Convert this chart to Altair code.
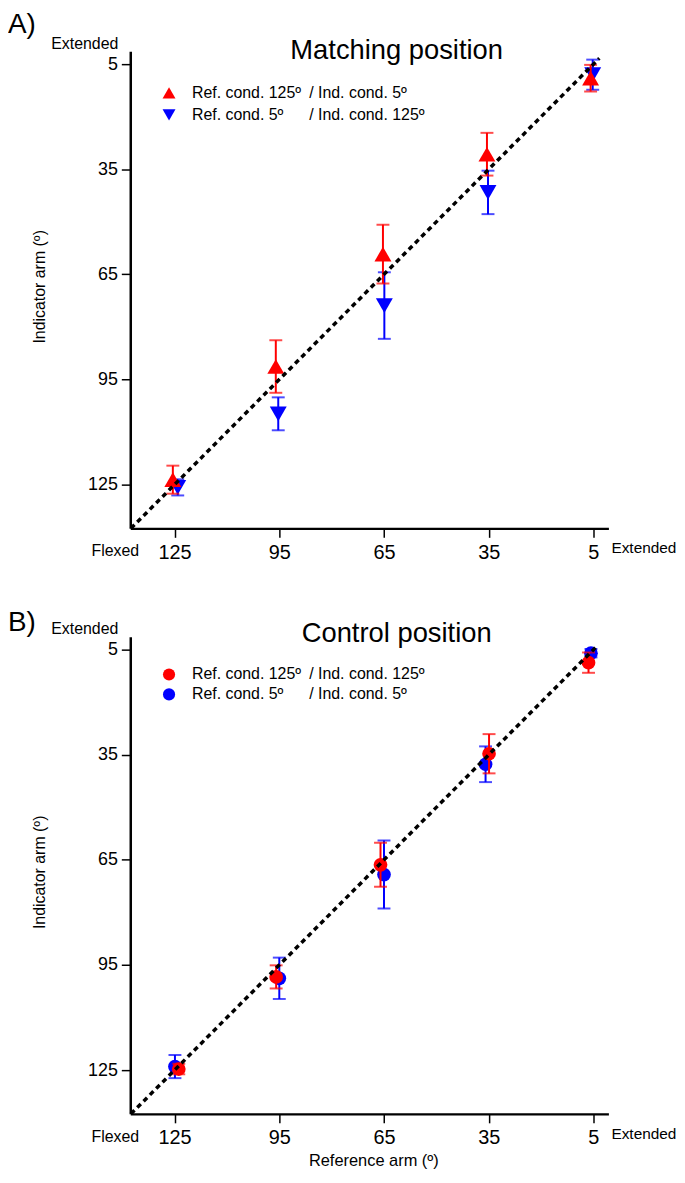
import altair as alt
import pandas as pd

FONT = "Liberation Sans"
RED = "#ff0000"
BLUE = "#0000ff"

tick_values = [125, 95, 65, 35, 5]

# Panel A: matching position (reference arm vs indicator arm, degrees)
a_red_x = [125.5, 96.0, 65.3, 35.5, 5.8]
a_red_mean = [123.6, 91.3, 59.2, 30.7, 9.0]
a_red_err = [4.0, 7.5, 8.4, 6.1, 3.8]
a_blue_x = [124.1, 95.3, 64.9, 35.2, 5.2]
a_blue_mean = [125.8, 104.8, 73.9, 41.6, 8.0]
a_blue_err = [2.3, 4.7, 9.5, 6.2, 4.3]

# Panel B: control position
b_red_x = [123.8, 95.9, 66.0, 34.9, 6.4]
b_red_mean = [124.7, 98.4, 66.4, 34.7, 8.7]
b_red_err = [1.5, 3.3, 6.3, 5.6, 2.9]
b_blue_x = [124.9, 95.0, 65.0, 35.9, 5.7]
b_blue_mean = [124.0, 98.8, 69.2, 37.7, 6.0]
b_blue_err = [3.3, 5.9, 9.7, 5.1, 1.2]

identity_a = [137.5, 3.3]
identity_b = [137.5, 3.8]

legend_a = [("Ref. cond. 125º", "/  Ind. cond. 5º"), ("Ref. cond. 5º", "/  Ind. cond. 125º")]
legend_b = [("Ref. cond. 125º", "/  Ind. cond. 125º"), ("Ref. cond. 5º", "/  Ind. cond. 5º")]

W, H = 481, 480

xscale = alt.Scale(domain=[0.7, 137.7], reverse=True, nice=False, zero=False)
yscale = alt.Scale(domain=[1.3, 137.5], reverse=True, nice=False, zero=False)

xaxis = alt.Axis(values=tick_values, title=None, labelFontSize=20, labelFont=FONT,
                 labelColor="black", labelPadding=5, tickSize=9, tickWidth=1.5,
                 tickColor="black", domainColor="black", domainWidth=2.5, grid=False,
                 labelFlush=False)
yaxis = alt.Axis(values=tick_values, title=None, labelFontSize=18, labelFont=FONT,
                 labelColor="black", labelPadding=4, tickSize=9, tickWidth=1.5,
                 tickColor="black", domainColor="black", domainWidth=2.5, grid=False,
                 labelFlush=False)


def txt(s, x, y, size, align="left", baseline="alphabetic", angle=None):
    kw = dict(text=s, fontSize=size, font=FONT, align=align, baseline=baseline, color="black")
    if angle is not None:
        kw["angle"] = angle
    return alt.Chart(alt.Data(values=[{"a": 1}])).mark_text(**kw).encode(
        x=alt.value(x), y=alt.value(y))


def series(xs, means, errs, color, shape, size):
    df = pd.DataFrame({
        "x": xs,
        "m": means,
        "lo": [m - e for m, e in zip(means, errs)],
        "hi": [m + e for m, e in zip(means, errs)],
    })
    X = alt.X("x:Q", scale=xscale, axis=xaxis)
    rule = alt.Chart(df).mark_rule(color=color, strokeWidth=2).encode(
        x=X, y=alt.Y("lo:Q", scale=yscale, axis=yaxis), y2="hi:Q")
    cap_lo = alt.Chart(df).mark_tick(color=color, orient="horizontal", size=13,
                                     thickness=2).encode(
        x=X, y=alt.Y("lo:Q", scale=yscale, axis=yaxis))
    cap_hi = alt.Chart(df).mark_tick(color=color, orient="horizontal", size=13,
                                     thickness=2).encode(
        x=X, y=alt.Y("hi:Q", scale=yscale, axis=yaxis))
    pts = alt.Chart(df).mark_point(shape=shape, filled=True, size=size, color=color,
                                   opacity=1).encode(
        x=X, y=alt.Y("m:Q", scale=yscale, axis=yaxis))
    return [rule, cap_lo, cap_hi, pts]


def panel(rx, rm, re, bx, bm, be, rshape, bshape, msize, lsize, title, letter,
          legend, ident, letter_y, title_y, leg_y, ext_y, xtitle):
    layers = []
    layers += series(bx, bm, be, BLUE, bshape, msize)
    layers += series(rx, rm, re, RED, rshape, msize)
    ldf = pd.DataFrame({"x": ident, "y": ident})
    layers.append(alt.Chart(ldf).mark_line(color="black", strokeWidth=3.5,
                                           strokeDash=[5, 4], strokeCap="butt").encode(
        x=alt.X("x:Q", scale=xscale, axis=xaxis),
        y=alt.Y("y:Q", scale=yscale, axis=yaxis)))
    # legend
    for i, (color, shape) in enumerate([(RED, rshape), (BLUE, bshape)]):
        yy = leg_y[i]
        layers.append(alt.Chart(alt.Data(values=[{"a": 1}])).mark_point(
            shape=shape, filled=True, size=lsize, color=color, opacity=1).encode(
            x=alt.value(39), y=alt.value(yy)))
        layers.append(txt(legend[i][0], 62, yy, 16, baseline="middle"))
        layers.append(txt(legend[i][1], 180, yy, 16, baseline="middle"))
    layers.append(txt(title, 268, title_y, 27.5, align="center"))
    layers.append(txt(letter, -123, letter_y, 28))
    layers.append(txt("Extended", -12, ext_y, 16, align="right"))
    layers.append(txt("Flexed", 9, H + 28, 16, align="right"))
    layers.append(txt("Extended", 484, H + 25, 15.5))
    layers.append(txt("Indicator arm (º)", -91, 237, 16, align="center",
                      baseline="middle", angle=270))
    if xtitle:
        layers.append(txt("Reference arm (º)", 245, H + 52, 16.5, align="center"))
    return alt.layer(*layers).properties(width=W, height=H)


top = panel(a_red_x, a_red_mean, a_red_err, a_blue_x, a_blue_mean, a_blue_err,
            "triangle-up", "triangle-down", 290, 170, "Matching position", "A)",
            legend_a, identity_a, -18, 8, [42, 64], -2, False)
bottom = panel(b_red_x, b_red_mean, b_red_err, b_blue_x, b_blue_mean, b_blue_err,
               "circle", "circle", 190, 150, "Control position", "B)",
               legend_b, identity_b, -6, 5, [38, 58], -2.5, True)

chart = alt.vconcat(top, bottom, spacing=47).properties(
    padding=0, background="white"
).configure_view(stroke=None)

chart.save("out.html", embed_options={"renderer": "svg", "actions": False})
